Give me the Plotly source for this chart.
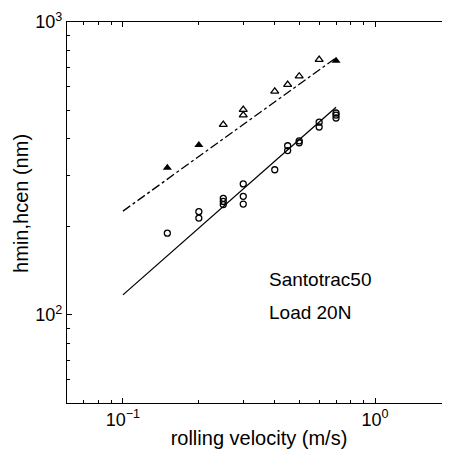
import math
import plotly.graph_objects as go

# hcen (triangles)
tri_filled_x = [0.15, 0.2, 0.7]
tri_filled_y = [318, 380, 738]
tri_open_x = [0.25, 0.3, 0.3, 0.4, 0.45, 0.5, 0.6]
tri_open_y = [446, 502, 481, 580, 611, 653, 744]
# hmin (circles)
circ_x = [0.15, 0.2, 0.2, 0.25, 0.25, 0.25, 0.3, 0.3, 0.3, 0.4, 0.45, 0.45, 0.5, 0.5, 0.6, 0.6, 0.7, 0.7, 0.7]
circ_y = [190, 225, 214, 250, 244, 238, 280, 254, 239, 313, 378, 364, 393, 387, 455, 438, 489, 481, 470]
# fitted lines
fit_x = [0.1, 0.7]
hcen_fit = [226, 755]
hmin_fit = [117, 512]

x_tickvals = [0.1, 1]
x_ticktext = ["10<sup>−1</sup>", "10<sup>0</sup>"]
y_tickvals = [100, 1000]
y_ticktext = ["10<sup>2</sup>", "10<sup>3</sup>"]
x_minor = [0.06, 0.07, 0.08, 0.09, 0.2, 0.3, 0.4, 0.5, 0.6, 0.7, 0.8, 0.9, 2]
y_minor = [50, 60, 70, 80, 90, 200, 300, 400, 500, 600, 700, 800, 900]

FONT = "Liberation Sans, Arial, sans-serif"

fig = go.Figure()
fig.add_trace(go.Scatter(x=fit_x, y=hcen_fit, mode="lines",
                         line=dict(color="black", width=1.3, dash="dashdot")))
fig.add_trace(go.Scatter(x=fit_x, y=hmin_fit, mode="lines",
                         line=dict(color="black", width=1.3)))
fig.add_trace(go.Scatter(x=tri_filled_x, y=tri_filled_y, mode="markers",
                         marker=dict(symbol="triangle-up", size=8, color="black")))
fig.add_trace(go.Scatter(x=tri_open_x, y=tri_open_y, mode="markers",
                         marker=dict(symbol="triangle-up-open", size=7, color="black",
                                     line=dict(width=1.3))))
fig.add_trace(go.Scatter(x=circ_x, y=circ_y, mode="markers",
                         marker=dict(symbol="circle-open", size=6, color="black",
                                     line=dict(width=1.3))))

fig.add_annotation(x=math.log10(0.372), y=math.log10(132), xref="x", yref="y",
                   text="Santotrac50", showarrow=False, xanchor="left", yanchor="middle",
                   font=dict(size=19, color="black", family=FONT))
fig.add_annotation(x=math.log10(0.372), y=math.log10(101.5), xref="x", yref="y",
                   text="Load 20N", showarrow=False, xanchor="left", yanchor="middle",
                   font=dict(size=19, color="black", family=FONT))
# y-axis title
fig.add_annotation(x=-0.12, y=0.525, xref="paper", yref="paper",
                   text="hmin,hcen (nm)", showarrow=False, textangle=-90,
                   xanchor="center", yanchor="middle",
                   font=dict(size=20, color="black", family=FONT))

axis_common = dict(showline=True, linecolor="black", linewidth=1.3, mirror="ticks",
                   ticks="inside", ticklen=5, tickwidth=1.2, tickcolor="black",
                   showgrid=False, zeroline=False,
                   tickfont=dict(size=18, color="black", family=FONT))

fig.update_xaxes(type="log", range=[math.log10(0.06), math.log10(2)],
                 tickmode="array", tickvals=x_tickvals, ticktext=x_ticktext,
                 minor=dict(tickmode="array", tickvals=x_minor, ticks="inside",
                            ticklen=3, tickwidth=1.2, tickcolor="black", showgrid=False),
                 title=dict(text="rolling velocity (m/s)", standoff=2,
                            font=dict(size=20, color="black", family=FONT)),
                 **axis_common)
fig.update_yaxes(type="log", range=[math.log10(50), 3],
                 tickmode="array", tickvals=y_tickvals, ticktext=y_ticktext,
                 minor=dict(tickmode="array", tickvals=y_minor, ticks="inside",
                            ticklen=3, tickwidth=1.2, tickcolor="black", showgrid=False),
                 **axis_common)

fig.update_layout(width=450, height=451, showlegend=False,
                  margin=dict(l=59, r=7, t=14, b=56, autoexpand=False),
                  paper_bgcolor="white", plot_bgcolor="white",
                  font=dict(family=FONT, color="black"))

fig.write_html("out.html")
